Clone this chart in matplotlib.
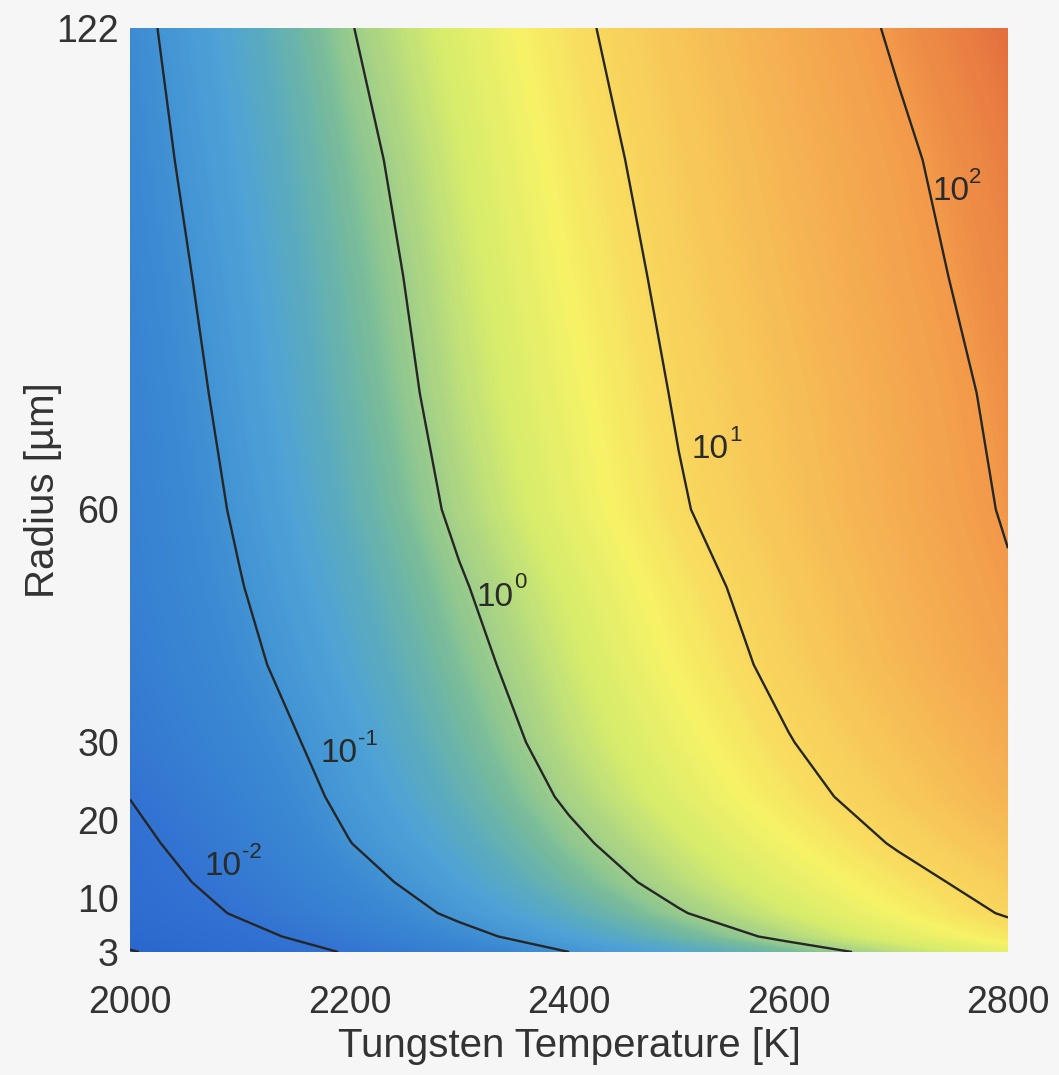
import numpy as np
import matplotlib
matplotlib.use("Agg")
import matplotlib.pyplot as plt
from matplotlib.colors import LinearSegmentedColormap

plt.rcParams['font.family'] = ['Liberation Sans', 'DejaVu Sans']

# grid: log10 of the rate
temps = [2000, 2100, 2200, 2300, 2400, 2500, 2600, 2700, 2800]
radii = [3, 5, 8, 12, 17, 23, 30, 40, 50, 60, 75, 90, 105, 122]
log_rate = [
    [-3.05, -2.43, -1.95, -1.48, -1.00, -0.61, -0.22, 0.16, 0.50],
    [-2.72, -2.20, -1.68, -1.16, -0.71, -0.29, 0.11, 0.46, 0.82],
    [-2.47, -1.94, -1.41, -0.90, -0.46, -0.03, 0.33, 0.69, 1.04],
    [-2.31, -1.76, -1.20, -0.71, -0.25, 0.15, 0.50, 0.85, 1.19],
    [-2.16, -1.59, -1.01, -0.55, -0.09, 0.30, 0.67, 1.04, 1.37],
    [-1.99, -1.42, -0.88, -0.40, 0.06, 0.46, 0.85, 1.21, 1.56],
    [-1.78, -1.28, -0.78, -0.28, 0.18, 0.58, 0.98, 1.34, 1.70],
    [-1.61, -1.12, -0.64, -0.15, 0.29, 0.72, 1.13, 1.50, 1.87],
    [-1.51, -1.02, -0.53, -0.04, 0.39, 0.83, 1.22, 1.59, 1.96],
    [-1.46, -0.94, -0.42, 0.08, 0.52, 0.96, 1.32, 1.68, 2.04],
    [-1.38, -0.85, -0.32, 0.18, 0.61, 1.04, 1.39, 1.75, 2.10],
    [-1.30, -0.77, -0.24, 0.25, 0.70, 1.12, 1.48, 1.84, 2.19],
    [-1.22, -0.68, -0.15, 0.33, 0.79, 1.20, 1.56, 1.92, 2.28],
    [-1.14, -0.58, -0.02, 0.44, 0.90, 1.30, 1.68, 2.06, 2.44],
]
levels = [-3, -2, -1, 0, 1, 2]
y_ticks = [3, 10, 20, 30, 60, 122]
x_ticks = [2000, 2200, 2400, 2600, 2800]

# colour ramp (value, colour)
vmin, vmax = -3.0, 2.5
ramp = [(-3.0, '#2a66cc'), (-2.0, '#3272d2'), (-1.2, '#3a88d2'),
        (-0.7, '#4ea2d6'), (-0.45, '#5cacbc'), (-0.2, '#76ba9c'),
        (0.05, '#a6d286'), (0.35, '#d6ec6c'), (0.7, '#f6f266'),
        (1.0, '#f8d85e'), (1.5, '#f6b854'), (2.0, '#f29a4a'),
        (2.5, '#e26a3c')]
cmap = LinearSegmentedColormap.from_list(
    'rate', [((v - vmin) / (vmax - vmin), c) for v, c in ramp])

T, R = np.meshgrid(temps, radii)
Z = np.array(log_rate)

bg = '#f6f6f6'
txt = '#333333'
fig = plt.figure(figsize=(10.59, 10.75), dpi=100, facecolor=bg)
ax = fig.add_axes([130 / 1059, 1 - 952 / 1075, 878 / 1059, 924 / 1075])

ax.contourf(T, R, Z, levels=np.linspace(-3.1, 2.5, 300), cmap=cmap,
            vmin=vmin, vmax=vmax, antialiased=False)
ax.contour(T, R, Z, levels=levels, colors='#262626', linewidths=1.7,
           linestyles='solid')

# contour labels sit just right of each line
lab_pos = {-2: (2068, 14.0), -1: (2174, 28.5), 0: (2316, 48.7),
           1: (2512, 67.7), 2: (2731, 100.9)}
for lv, (tx, ry) in lab_pos.items():
    base = ax.text(tx, ry, '10', fontsize=24, color='#2a2a2a',
                   ha='left', va='center')
    ax.annotate(str(lv), xy=(1, 0.62), xycoords=base, fontsize=16,
                color='#2a2a2a', ha='left', va='bottom')

ax.set_xlim(2000, 2800)
ax.set_ylim(3, 122)
ax.set_xticks(x_ticks)
ax.set_yticks(y_ticks)
ax.tick_params(length=0, labelsize=27, labelcolor=txt)
ax.tick_params(axis='x', pad=24)
ax.tick_params(axis='y', pad=8)
for s in ax.spines.values():
    s.set_visible(False)

ax.set_xlabel('Tungsten Temperature [K]', fontsize=29, color=txt, labelpad=4)
ax.set_ylabel('Radius [\u00b5m]', fontsize=29, color=txt, labelpad=-4)

fig.savefig('out.png', dpi=100, facecolor=bg)
